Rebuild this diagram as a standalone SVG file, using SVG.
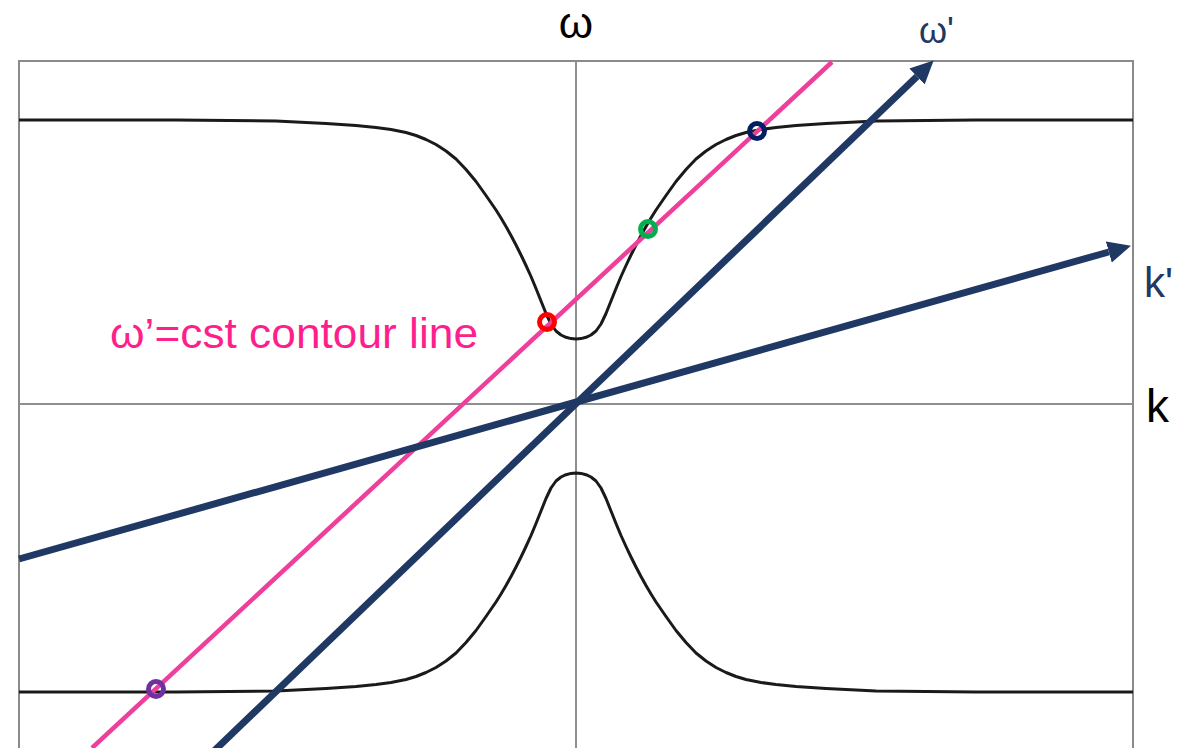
<svg xmlns="http://www.w3.org/2000/svg" width="1195" height="748" viewBox="0 0 1195 748">
<defs>
<style>
.frame{fill:none;stroke:#8a8a8a;stroke-width:2}
.axis{stroke:#8f8f8f;stroke-width:2;fill:none}
.curve{fill:none;stroke:#1a1a1a;stroke-width:3;stroke-linejoin:round}
.pink{stroke:#ee3f9b;stroke-width:4.5;fill:none}
.navy{stroke:#1f3864;stroke-width:7;fill:none}
.dot{fill:none;stroke-width:5}
.lbl{font-family:"Liberation Sans",Arial,sans-serif}
</style>
<marker id="head" markerUnits="userSpaceOnUse" viewBox="0 -12 23 24" refX="0" refY="0" markerWidth="23" markerHeight="24" orient="auto">
<path d="M0,-11 L23,0 L0,11 z" fill="#1f3864"/>
</marker>
<path id="upper" d="M19,120 L176,120 L276,121 L326,123.5 L356,125.5 L376,127.5 L391,129.5 L406,132.5 L416,135.5 L426,139.5 L436,144.5 L446,151 L456,159 L466,169.5 L476,181.5 L486,195.5 L496,210 L501,218 L506,226.5 L511,235.5 L516,245 L521,255 L526,265.5 L531,276.5 L536,288.5 L541,301 L546,313.5 L551,324 L556,331 L561,335 L566,337.3 L571,338.6 L576,339 L581,338.6 L586,337.3 L591,335 L596,331 L601,324 L606,313.5 L611,301 L616,288.5 L621,276.5 L626,265.5 L631,255 L636,245 L641,235.5 L646,226.5 L651,218 L656,210 L666,195.5 L676,181.5 L686,169.5 L696,159 L706,151 L716,144.5 L726,139.5 L736,135.5 L746,132.5 L761,129.5 L776,127.5 L796,125.5 L826,123.5 L876,121 L976,120 L1133,120"/>
</defs>
<g id="frame">
<rect class="frame" x="19" y="61" width="1114" height="700"/>
<line class="axis" x1="576" y1="61" x2="576" y2="748"/>
<line class="axis" x1="19" y1="404" x2="1133" y2="404"/>
</g>
<g id="curves">
<use href="#upper" class="curve"/>
<use href="#upper" class="curve" transform="matrix(1,0,0,-1,0,812)"/>
</g>
<g id="connectors">
<line class="pink" x1="92" y1="748" x2="832" y2="62"/>
<line class="navy" x1="19" y1="559" x2="1108.8" y2="252" marker-end="url(#head)"/>
<line class="navy" x1="214" y1="751" x2="917" y2="76.5" marker-end="url(#head)"/>
</g>
<g id="points">
<circle class="dot" cx="547" cy="322" r="7.5" stroke="#ff0000"/>
<circle class="dot" cx="648" cy="229" r="7.5" stroke="#00b050"/>
<circle class="dot" cx="757" cy="131" r="7.5" stroke="#002060"/>
<circle class="dot" cx="156" cy="689" r="7.5" stroke="#7030a0"/>
</g>
<g id="labels">
<text class="lbl" x="576" y="38" font-size="44" text-anchor="middle" fill="#000">ω</text>
<text class="lbl" x="919" y="43" font-size="36" fill="#1f3864">ω'</text>
<text class="lbl" x="1144" y="297" font-size="42" fill="#1f3864">k'</text>
<text class="lbl" x="1146" y="422" font-size="46" fill="#000">k</text>
<text class="lbl" x="110" y="348" font-size="42" fill="#ff1f8c" textLength="368" lengthAdjust="spacingAndGlyphs">ω’=cst contour line</text>
</g>
</svg>
